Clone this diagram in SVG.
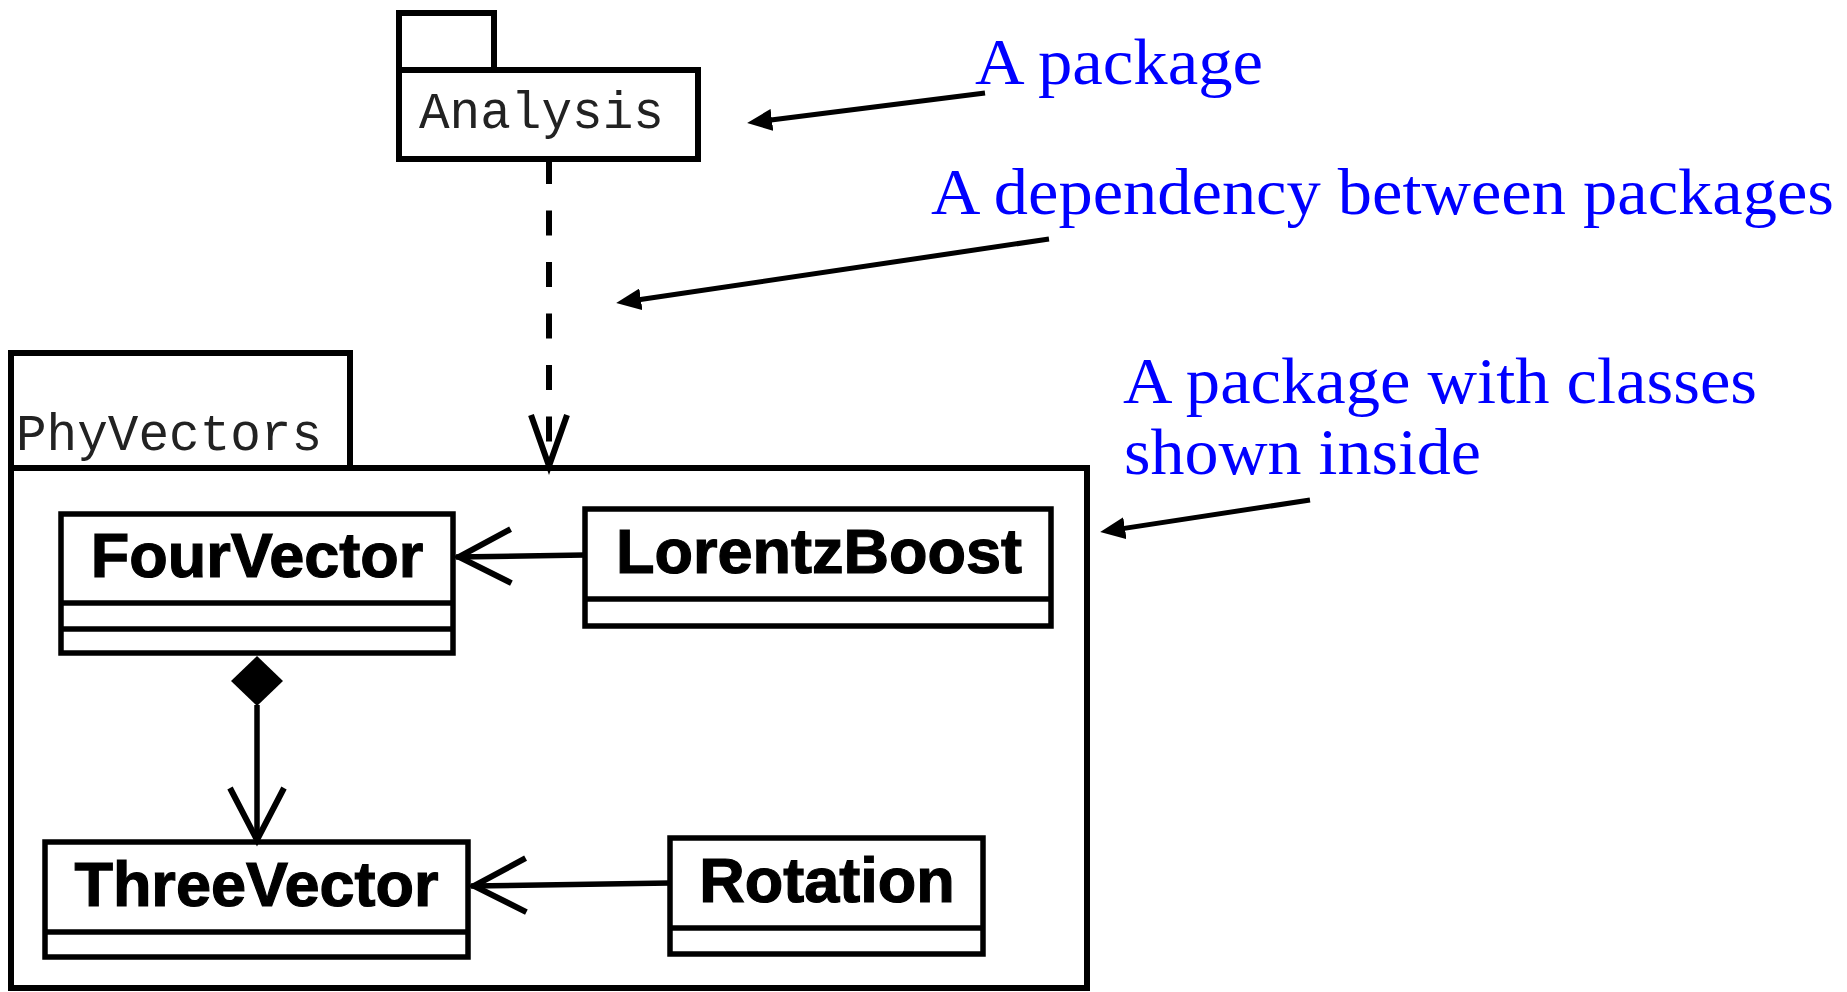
<svg xmlns="http://www.w3.org/2000/svg" width="1847" height="992" viewBox="0 0 1847 992">
<defs>
<style>
.pkg{fill:none;stroke:#000;stroke-width:6}
.cls{fill:none;stroke:#000;stroke-width:5.5}
.pkgname{font-family:"Liberation Mono","Courier New",monospace;font-size:51px;fill:#222}
.clsname{font-family:"Liberation Sans",Arial,Helvetica,sans-serif;font-weight:bold;font-size:63px;fill:#000;stroke:#000;stroke-width:1.2;text-anchor:middle}
.note{font-family:"Liberation Serif","Times New Roman",serif;font-size:66px;fill:#0000ff}
.conn{fill:none;stroke:#000;stroke-width:5}
.rel{fill:none;stroke:#000;stroke-width:5.5}
.dash{stroke-width:6;stroke-dasharray:25 26.5}
</style>
<marker id="head" markerUnits="userSpaceOnUse" orient="auto" refX="9" refY="11" markerWidth="25" markerHeight="22" viewBox="0 0 25 22">
<path d="M0,0 L25,11 L0,22 z" fill="#000"/>
</marker>
<marker id="open" markerUnits="userSpaceOnUse" orient="auto" refX="0" refY="0" markerWidth="10" markerHeight="10" overflow="visible">
<path d="M-55,-27 L-3,0 L-55,27" fill="none" stroke="#000" stroke-width="6"/>
</marker>
<marker id="openNarrow" markerUnits="userSpaceOnUse" orient="auto" refX="0" refY="0" markerWidth="10" markerHeight="10" overflow="visible">
<path d="M-54,-18 L-3,0 L-54,18" fill="none" stroke="#000" stroke-width="6"/>
</marker>
</defs>
<rect width="1847" height="992" fill="#fff"/>

<g id="pkg-analysis">
<rect class="pkg" x="399" y="13" width="95" height="57"/>
<rect class="pkg" x="399" y="70" width="299" height="89"/>
<text class="pkgname" x="419" y="128">Analysis</text>
</g>

<g id="pkg-phyvectors">
<rect class="pkg" x="11" y="353" width="339" height="115"/>
<rect class="pkg" x="11" y="468" width="1076" height="520"/>
<text class="pkgname" x="16" y="450">PhyVectors</text>
</g>

<g id="cls-fourvector">
<rect class="cls" x="61" y="514" width="392" height="139"/>
<line class="cls" x1="61" y1="603" x2="453" y2="603"/>
<line class="cls" x1="61" y1="629" x2="453" y2="629"/>
<text class="clsname" x="257" y="577">FourVector</text>
</g>

<g id="cls-lorentzboost">
<rect class="cls" x="585" y="509" width="466" height="117"/>
<line class="cls" x1="585" y1="599" x2="1051" y2="599"/>
<text class="clsname" x="819" y="573">LorentzBoost</text>
</g>

<g id="cls-threevector">
<rect class="cls" x="45" y="842" width="423" height="115"/>
<line class="cls" x1="45" y1="932" x2="468" y2="932"/>
<text class="clsname" x="256.5" y="906">ThreeVector</text>
</g>

<g id="cls-rotation">
<rect class="cls" x="670" y="838" width="313" height="116"/>
<line class="cls" x1="670" y1="928" x2="983" y2="928"/>
<text class="clsname" x="827" y="902">Rotation</text>
</g>

<g id="connectors">
<line class="conn dash" x1="549" y1="159" x2="549" y2="469" marker-end="url(#openNarrow)"/>
<line class="rel" x1="585" y1="555" x2="456" y2="557" marker-end="url(#open)"/>
<line class="rel" x1="670" y1="883" x2="471" y2="886" marker-end="url(#open)"/>
<polygon points="257,656 283,681 257,706 231,681" fill="#000"/>
<line class="rel" x1="257" y1="705" x2="257" y2="843" marker-end="url(#open)"/>
</g>

<g id="annotations">
<text class="note" x="975" y="84" textLength="288" lengthAdjust="spacingAndGlyphs">A package</text>
<line class="conn" x1="985" y1="93" x2="763" y2="121" marker-end="url(#head)"/>
<text class="note" x="931" y="214" textLength="903" lengthAdjust="spacingAndGlyphs">A dependency between packages</text>
<line class="conn" x1="1049" y1="239" x2="632" y2="300.7" marker-end="url(#head)"/>
<text class="note" x="1123" y="403" textLength="634" lengthAdjust="spacingAndGlyphs">A package with classes</text>
<text class="note" x="1124" y="474" textLength="357" lengthAdjust="spacingAndGlyphs">shown inside</text>
<line class="conn" x1="1310" y1="500" x2="1116" y2="529.6" marker-end="url(#head)"/>
</g>
</svg>
